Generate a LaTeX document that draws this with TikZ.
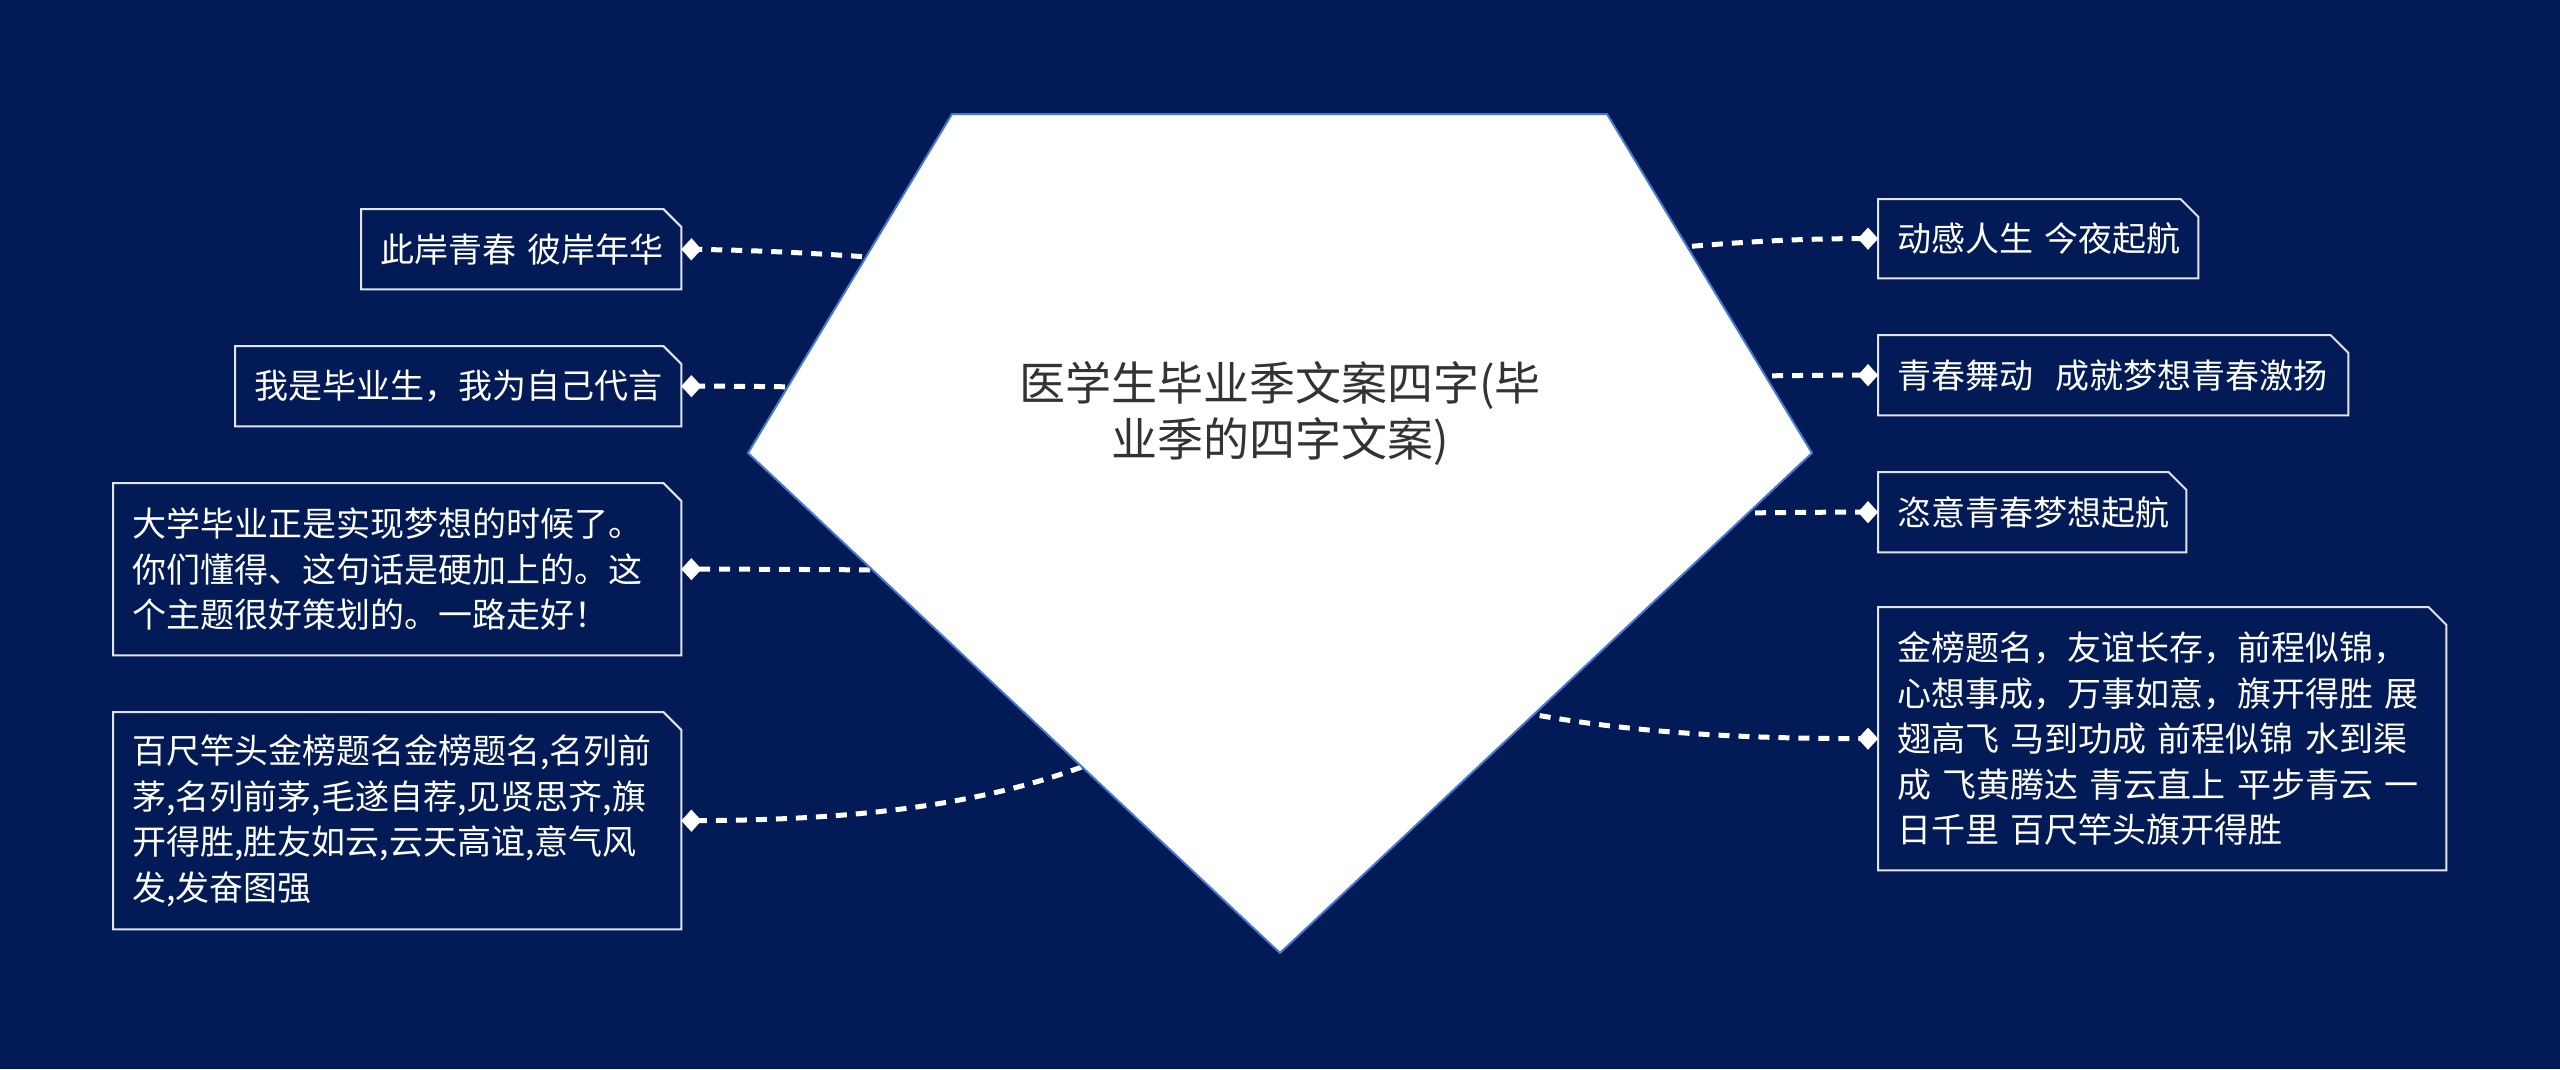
\documentclass[tikz,border=0pt]{standalone}
\usepackage{fontspec}
\newfontfamily\cjk{Noto Sans CJK SC}
\usetikzlibrary{arrows.meta}
\definecolor{bg}{RGB}{2,27,86}
\definecolor{pentedge}{RGB}{70,120,210}
\definecolor{leafedge}{RGB}{225,228,238}
\definecolor{titlecol}{RGB}{51,51,51}
\tikzset{
  leaf/.style={anchor=north west, font=\cjk\fontsize{34}{45.5}\selectfont, text=white,
    align=left, inner xsep=19pt, inner ysep=0pt},
  leafline/.style={draw=leafedge, line width=2pt, line join=miter},
  conn/.style={draw=white, line width=5pt, dash pattern=on 11pt off 9pt,
    -{Diamond[length=20pt,width=22pt,line width=0.1pt,fill=white]}},
  pent/.style={fill=white, draw=pentedge, line width=2pt, line join=miter},
  roottext/.style={font=\cjk\fontsize{46}{56}\selectfont, text=titlecol, align=center}
}
\begin{document}
\begin{tikzpicture}[x=1pt,y=-1pt]
\fill[bg] (0,0) rectangle (2560,1069);
\useasboundingbox (0,0) rectangle (2560,1069);
% leaves
\node[leaf, text width=282pt, minimum height=80pt] (b1) at (361,209) {此岸青春~彼岸年华};
\node[leaf, text width=408pt, minimum height=80pt] (b2) at (235,346) {我是毕业生，我为自己代言};
\node[leaf, text width=530pt, minimum height=172pt] (b3) at (113,483) {大学毕业正是实现梦想的时候了。\\你们懂得、这句话是硬加上的。这\\个主题很好策划的。一路走好！};
\node[leaf, text width=530pt, minimum height=217pt] (b4) at (113,712) {百尺竿头金榜题名金榜题名,名列前\\茅,名列前茅,毛遂自荐,见贤思齐,旗\\开得胜,胜友如云,云天高谊,意气风\\发,发奋图强};
\node[leaf, text width=282pt, minimum height=79pt] (b5) at (1878,199) {动感人生~今夜起航};
\node[leaf, text width=432pt, minimum height=80pt] (b6) at (1878,335) {青春舞动~~成就梦想青春激扬};
\node[leaf, text width=270pt, minimum height=80pt] (b7) at (1878,472) {恣意青春梦想起航};
\node[leaf, text width=530pt, minimum height=263pt] (b8) at (1878,607) {金榜题名，友谊长存，前程似锦，\\心想事成，万事如意，旗开得胜~展\\翅高飞~马到功成~前程似锦~水到渠\\成~飞黄腾达~青云直上~平步青云~一\\日千里~百尺竿头旗开得胜};
\foreach \n in {b1,b2,b3,b4,b5,b6,b7,b8}{
  \draw[leafline] (\n.south west) -- (\n.north west) -- ([xshift=-18pt]\n.north east)
    -- ([yshift=-18pt]\n.north east) -- (\n.south east) -- cycle;
}
% connector start points (inside the pentagon)
\coordinate (s1) at (882,258);
\coordinate (s2) at (805,387);
\coordinate (s3) at (890,570);
\coordinate (s4) at (1100,760);
\coordinate (s5) at (1672,248);
\coordinate (s6) at (1752,376);
\coordinate (s7) at (1735,513);
\coordinate (s8) at (1520,712);
\draw[conn] (s1) .. controls (800,252) and (740,250) .. (b1.east);
\draw[conn] (s2) .. controls (760,386.5) and (720,386) .. (b2.east);
\draw[conn] (s3) .. controls (800,569.5) and (740,569) .. (b3.east);
\draw[conn] (s4) .. controls (1000,800) and (880,820) .. (b4.east);
\draw[conn] (s5) .. controls (1760,240) and (1820,238.5) .. (b5.west);
\draw[conn] (s6) .. controls (1800,375.5) and (1840,375) .. (b6.west);
\draw[conn] (s7) .. controls (1790,512.5) and (1840,512) .. (b7.west);
\draw[conn] (s8) .. controls (1640,735) and (1760,738.5) .. (b8.west);
% root
\draw[pent] (952,114) -- (1607,114) -- (1812,453) -- (1280,953) -- (748,453) -- cycle;
\node[roottext] (root) at (1280,413) {医学生毕业季文案四字(毕\\业季的四字文案)};
\end{tikzpicture}
\end{document}
